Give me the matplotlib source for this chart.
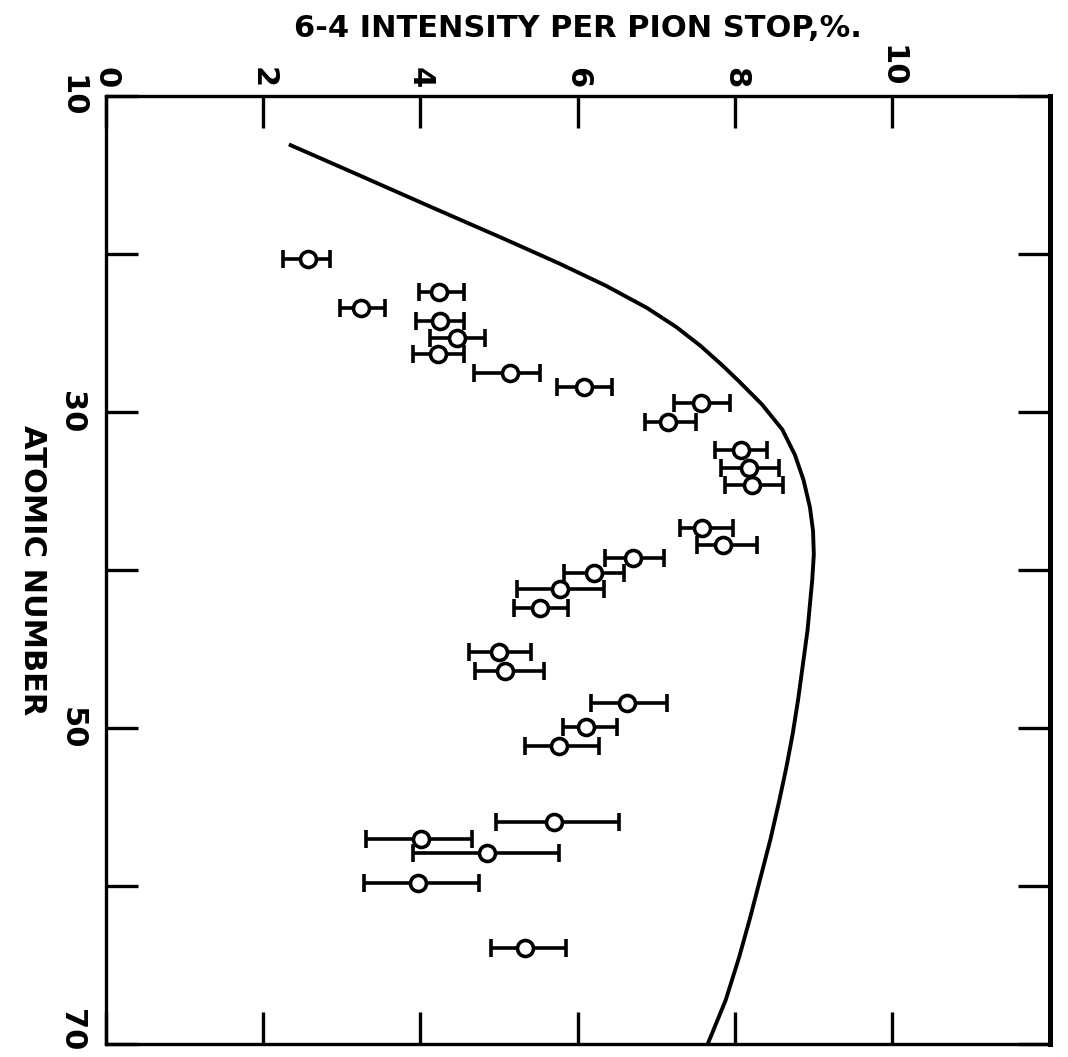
import matplotlib
matplotlib.use("Agg")
import matplotlib.pyplot as plt
import matplotlib.transforms as mtransforms

# Measured points: atomic number, intensity (%), lower / upper error bar ends
atomic_number = [20.3, 23.4, 22.4, 24.2, 25.3, 26.3, 27.5, 28.4, 29.4, 30.6,
                 32.4, 33.5, 34.6, 37.3, 38.4, 39.2, 40.2, 41.2, 42.4, 45.2,
                 46.4, 48.4, 49.9, 51.1, 55.9, 57.0, 57.9, 59.8, 63.9]
intensity = [2.57, 3.25, 4.24, 4.25, 4.46, 4.22, 5.14, 6.08, 7.57, 7.15,
             8.08, 8.18, 8.22, 7.58, 7.85, 6.70, 6.20, 5.78, 5.52, 5.00,
             5.07, 6.62, 6.11, 5.76, 5.70, 4.01, 4.84, 3.97, 5.33]
err_low = [2.25, 2.98, 3.98, 3.94, 4.12, 3.90, 4.68, 5.74, 7.22, 6.86,
           7.74, 7.82, 7.87, 7.30, 7.52, 6.34, 5.83, 5.23, 5.19, 4.62,
           4.69, 6.17, 5.81, 5.33, 4.96, 3.31, 3.91, 3.28, 4.90]
err_high = [2.85, 3.55, 4.56, 4.55, 4.82, 4.56, 5.52, 6.43, 7.93, 7.50,
            8.41, 8.56, 8.61, 7.97, 8.28, 7.09, 6.59, 6.33, 5.87, 5.41,
            5.57, 7.14, 6.50, 6.27, 6.52, 4.66, 5.76, 4.74, 5.85]

# Theoretical curve
curve_z = [13.1, 15.0, 17.0, 19.0, 20.6, 22.0, 23.4, 24.6, 25.8, 27.0,
           28.0, 29.5, 31.1, 32.7, 34.3, 36.0, 37.5, 39.0, 40.6, 42.2,
           43.8, 46.0, 48.2, 50.4, 52.5, 54.6, 57.0, 59.5, 62.0, 64.5,
           67.2, 70.0]
curve_i = [2.35, 3.22, 4.13, 5.05, 5.77, 6.36, 6.88, 7.25, 7.56, 7.83,
           8.04, 8.34, 8.60, 8.76, 8.87, 8.95, 8.99, 9.00, 8.98, 8.95,
           8.92, 8.86, 8.80, 8.73, 8.65, 8.56, 8.45, 8.32, 8.19, 8.05,
           7.88, 7.65]

x_ticks = [0, 2, 4, 6, 8, 10]
z_ticks = [10, 20, 30, 40, 50, 60, 70]
z_labels = ["10", "", "30", "", "50", "", "70"]

FONT = dict(fontsize=22, fontweight="bold")

fig = plt.figure(figsize=(10.68, 10.57), dpi=100)
ax = fig.add_axes([0.099, 0.012, 0.884, 0.897])

ax.plot(curve_i, curve_z, color="black", lw=2.8, solid_joinstyle="round")

xerr = [[i - lo for i, lo in zip(intensity, err_low)],
        [hi - i for i, hi in zip(intensity, err_high)]]
ax.errorbar(intensity, atomic_number, xerr=xerr, fmt="o", color="black",
            mfc="white", mec="black", ms=11.5, mew=2.6, elinewidth=2.6,
            capsize=6.8, capthick=3.0)

ax.set_xlim(0, 12)
ax.set_ylim(70, 10)

for s in ax.spines.values():
    s.set_linewidth(2.4)
ax.spines["right"].set_linewidth(3.6)

ax.set_xticks(x_ticks)
ax.set_xticklabels([str(v) for v in x_ticks], rotation=-90, **FONT)
ax.tick_params(axis="x", direction="in", length=23, width=2.4,
               top=True, bottom=True, labeltop=True, labelbottom=False, pad=6)

ax.set_yticks(z_ticks)
ax.set_yticklabels(z_labels, rotation=-90, va="center", **FONT)
ax.tick_params(axis="y", direction="in", length=23, width=2.4,
               left=True, right=True, labelleft=True, labelright=False, pad=14)

# the last label sits a little above the bottom edge, as in the original
lab70 = ax.get_yticklabels()[-1]
lab70.set_transform(lab70.get_transform() +
                    mtransforms.ScaledTranslation(0, 14 / 100, fig.dpi_scale_trans))

ax.xaxis.set_label_position("top")
ax.set_xlabel("6-4 INTENSITY PER PION STOP,%.", labelpad=6, **FONT)
ax.set_ylabel("ATOMIC NUMBER", rotation=-90, labelpad=28, va="bottom", **FONT)

fig.savefig("out.png", dpi=100)
